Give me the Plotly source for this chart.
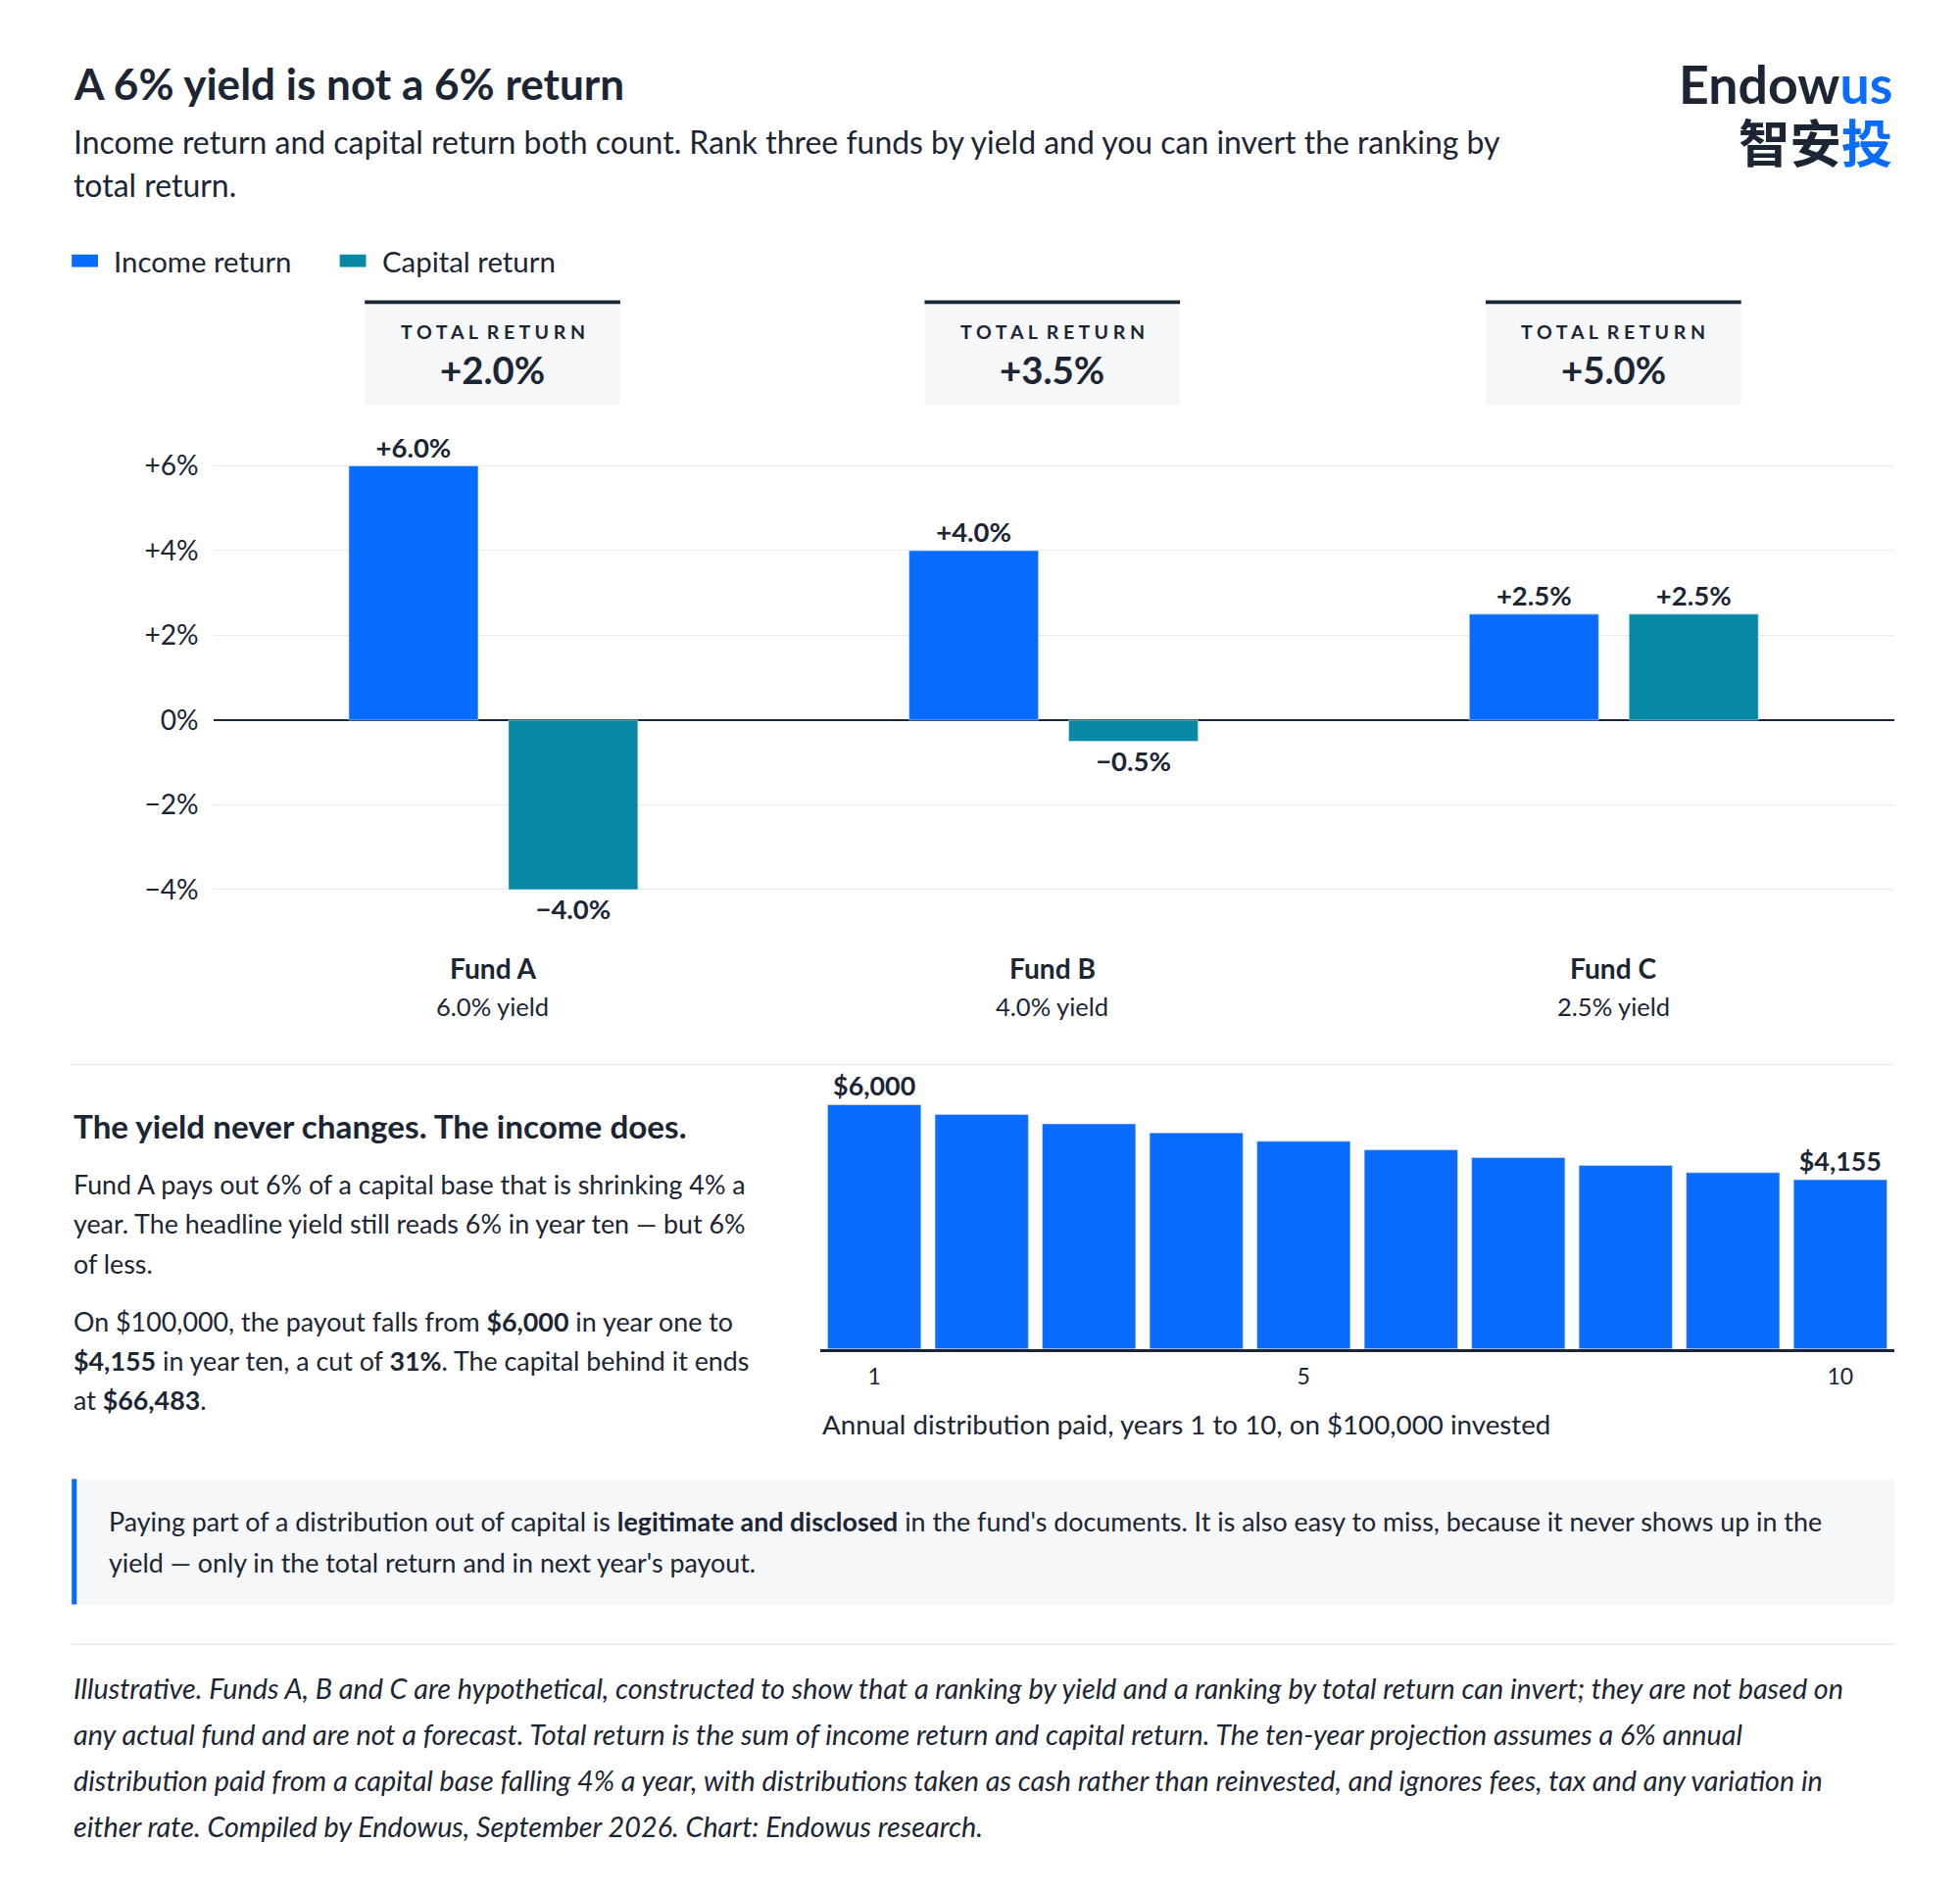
import plotly.graph_objects as go

# ---- data ----
funds = ["Fund A", "Fund B", "Fund C"]
yields = ["6.0% yield", "4.0% yield", "2.5% yield"]
income_return = [6.0, 4.0, 2.5]
capital_return = [-4.0, -0.5, 2.5]
total_return = ["+2.0%", "+3.5%", "+5.0%"]
income_labels = ["+6.0%", "+4.0%", "+2.5%"]
capital_labels = ["−4.0%", "−0.5%", "+2.5%"]

years = [1, 2, 3, 4, 5, 6, 7, 8, 9, 10]
payout = [6000, 5760, 5530, 5310, 5100, 4890, 4700, 4510, 4330, 4155]
payout_labels = ["$6,000", "", "", "", "", "", "", "", "", "$4,155"]

W, H = 2000, 1930
S = 2000 / 1565  # reference px -> figure px
OFF = 6  # page body margin, in reference px
BLUE = "#0a6cff"
TEAL = "#0788a4"
INK = "#1c2533"
FONT = "Lato"


def px(x):
    return (x - OFF) * S / W


def py(y):
    return 1 - (y - OFF) * S / H


fig = go.Figure()

fig.add_trace(go.Bar(x=funds, y=income_return, name="Income return", marker_color=BLUE,
                     text=income_labels, textposition="outside", cliponaxis=False,
                     textfont=dict(size=21.5 * S, color=INK, family=FONT, weight="bold"),
                     xaxis="x", yaxis="y"))
fig.add_trace(go.Bar(x=funds, y=capital_return, name="Capital return", marker_color=TEAL,
                     text=capital_labels, textposition="outside", cliponaxis=False,
                     textfont=dict(size=21.5 * S, color=INK, family=FONT, weight="bold"),
                     xaxis="x", yaxis="y"))
fig.add_trace(go.Bar(x=years, y=payout, marker_color=BLUE, text=payout_labels,
                     textposition="outside", cliponaxis=False,
                     textfont=dict(size=21 * S, color=INK, family=FONT, weight="bold"),
                     xaxis="x2", yaxis="y2", showlegend=False))

ann = []
shapes = []


def text(x, y, s, size, bold=False, xanchor="left", color=INK, italic=False, family=FONT):
    ann.append(dict(x=px(x), y=py(y), xref="paper", yref="paper", text=s, showarrow=False,
                    xanchor=xanchor, yanchor="middle", align=xanchor if xanchor != "center" else "center",
                    font=dict(family=family, size=size * S, color=color,
                              weight="bold" if bold else "normal",
                              style="italic" if italic else "normal")))


def rect(x0, x1, y0, y1, color, layer="above"):
    shapes.append(dict(type="rect", xref="paper", yref="paper", x0=px(x0), x1=px(x1),
                       y0=py(y1), y1=py(y0), fillcolor=color, line_width=0, layer=layer))


# header
text(57, 66, "A 6% yield is not a 6% return", 34.5, bold=True)
text(57, 113, "Income return and capital return both count. Rank three funds by yield and you can invert the ranking by", 25)
text(57, 147, "total return.", 25)
text(1512, 66, "Endow<span style='color:%s'>us</span>" % BLUE, 42, bold=True, xanchor="right")
text(1512, 112, "智安<span style='color:%s'>投</span>" % BLUE, 41, bold=True, xanchor="right",
     family="Noto Sans CJK SC")

# legend
rect(57, 78, 203, 213, BLUE)
text(89, 208, "Income return", 23)
rect(271, 292, 203, 213, TEAL)
text(303, 208, "Capital return", 23)

# total return boxes
for cx, tr in zip([393, 840, 1288], total_return):
    rect(cx - 102, cx + 102, 240, 323, "#f6f7f9", layer="below")
    rect(cx - 102, cx + 102, 239.5, 242.5, INK)
    text(cx, 265, "T O T A L  R E T U R N", 15.3, bold=True, xanchor="center")
    text(cx, 295, tr, 30, bold=True, xanchor="center")

# fund labels
for cx, f, yl in zip([393, 840, 1288], funds, yields):
    text(cx, 773, f, 22, bold=True, xanchor="center")
    text(cx, 803, yl, 20, xanchor="center")

# separators
for yy in [850, 1313]:
    rect(57, 1512, yy - 0.6, yy + 0.6, "#e5e8ec")

# lower-left text
text(57, 899, "The yield never changes. The income does.", 26, bold=True)
text(57, 946, "Fund A pays out 6% of a capital base that is shrinking 4% a", 21)
text(57, 977, "year. The headline yield still reads 6% in year ten — but 6%", 21)
text(57, 1009, "of less.", 21)
text(57, 1055, "On $100,000, the payout falls from <b>$6,000</b> in year one to", 21)
text(57, 1087, "<b>$4,155</b> in year ten, a cut of <b>31%</b>. The capital behind it ends", 21)
text(57, 1118, "at <b>$66,483</b>.", 21)
text(655, 1137, "Annual distribution paid, years 1 to 10, on $100,000 invested", 21.7)

# callout
rect(57, 1512, 1181, 1281, "#f6f7f9", layer="below")
rect(57, 61, 1181, 1281, BLUE)
text(85, 1215, "Paying part of a distribution out of capital is <b>legitimate and disclosed</b> in the fund's documents. "
               "It is also easy to miss, because it never shows up in the", 21)
text(85, 1248, "yield — only in the total return and in next year's payout.", 21)

# footnote
foot = [
    "Illustrative. Funds A, B and C are hypothetical, constructed to show that a ranking by yield and a ranking by total return can invert; they are not based on",
    "any actual fund and are not a forecast. Total return is the sum of income return and capital return. The ten-year projection assumes a 6% annual",
    "distribution paid from a capital base falling 4% a year, with distributions taken as cash rather than reinvested, and ignores fees, tax and any variation in",
    "either rate. Compiled by Endowus, September 2026. Chart: Endowus research.",
]
for i, line in enumerate(foot):
    text(57, 1348 + i * 36.7, line, 22.5, italic=True)

fig.update_layout(
    width=W, height=H, margin=dict(l=0, r=0, t=0, b=0),
    paper_bgcolor="white", plot_bgcolor="white", showlegend=False,
    barmode="group", bargap=0.43, bargroupgap=0.19,
    font=dict(family=FONT, color=INK),
    annotations=ann, shapes=shapes,
    xaxis=dict(domain=[px(170), px(1512)], showticklabels=False, ticks="", showgrid=False,
               anchor="y"),
    yaxis=dict(domain=[py(744), py(338)], range=[-5, 7], tickvals=[-4, -2, 0, 2, 4, 6],
               ticktext=["−4%", "−2%", "0%", "+2%", "+4%", "+6%"], gridcolor="#e8ebef",
               zeroline=True, zerolinecolor=INK, zerolinewidth=1.5, ticklabelstandoff=14,
               tickfont=dict(size=22 * S, color=INK), anchor="x"),
    xaxis2=dict(domain=[px(655), px(1512)], tickvals=[1, 5, 10], range=[0.5, 10.5], ticks="",
                showgrid=False, showline=True, linecolor=INK, linewidth=2.5, ticklabelstandoff=6,
                tickfont=dict(size=18 * S, color=INK), anchor="y2"),
    yaxis2=dict(domain=[py(1077), py(862.5)], range=[0, 6600], visible=False, anchor="x2"),
)
fig.update_traces(selector=dict(xaxis="x2"), width=0.87)

fig.write_html("out.html")
